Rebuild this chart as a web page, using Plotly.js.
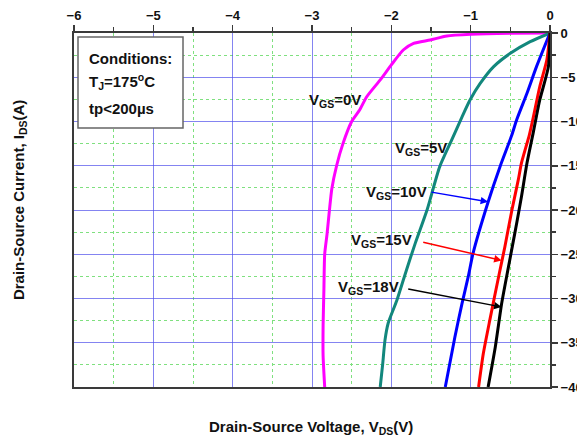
<!DOCTYPE html>
<html>
<head>
<meta charset="utf-8">
<script src="https://cdn.plot.ly/plotly-3.0.1.min.js"></script>
<style>
  html, body { margin: 0; padding: 0; background: #fff; }
  #chart { width: 577px; height: 436px; }
</style>
</head>
<body>
<div id="chart"></div>
<script>
// Third-quadrant output curves: drain-source voltage (V) vs drain-source current (A)
const vds_vgs0  = [0, -0.5, -1.0, -1.3, -1.51, -1.72, -1.85, -2.0, -2.14, -2.31, -2.40, -2.50, -2.61, -2.69, -2.75, -2.78, -2.81, -2.84, -2.85, -2.86, -2.86, -2.84];
const ids_vgs0  = [0, -0.03, -0.15, -0.34, -0.79, -1.17, -1.92, -3.6, -5.3, -7.2, -8.7, -10.0, -12.5, -15.0, -17.6, -20.0, -22.7, -25.0, -29.0, -33.0, -36.5, -40.0];

const vds_vgs5  = [0, -0.25, -0.5, -0.71, -0.88, -1.01, -1.11, -1.24, -1.39, -1.55, -1.70, -1.81, -1.93, -2.04, -2.08, -2.11, -2.14];
const ids_vgs5  = [0, -0.98, -2.3, -3.8, -5.7, -7.6, -9.5, -12.1, -15.1, -20.0, -23.8, -26.8, -30.2, -32.8, -34.7, -37.5, -40.0];

const vds_vgs10 = [0, -0.17, -0.29, -0.42, -0.48, -0.63, -0.78, -0.97, -1.03, -1.11, -1.20, -1.32];
const ids_vgs10 = [0, -3.8, -6.8, -9.8, -11.5, -15.1, -19.1, -24.9, -27.5, -30.6, -34.4, -40.0];

const vds_vgs15 = [0, -0.04, -0.13, -0.21, -0.26, -0.36, -0.40, -0.48, -0.57, -0.64, -0.76, -0.84, -0.90];
const ids_vgs15 = [0, -3.05, -6.1, -9.5, -11.5, -14.7, -16.6, -20.0, -24.2, -27.2, -32.5, -36.2, -40.0];

const vds_vgs18 = [0, -0.02, -0.13, -0.21, -0.29, -0.36, -0.42, -0.50, -0.54, -0.61, -0.69, -0.78];
const ids_vgs18 = [0, -3.8, -7.6, -11.2, -14.7, -18.5, -21.5, -25.3, -27.2, -30.6, -35.5, -40.0];

const seriesNames  = ['V<sub>GS</sub>=0V', 'V<sub>GS</sub>=5V', 'V<sub>GS</sub>=10V', 'V<sub>GS</sub>=15V', 'V<sub>GS</sub>=18V'];
const seriesColors = ['#ff00ff', '#12877c', '#0000ff', '#ff0000', '#000000'];
const seriesX = [vds_vgs0, vds_vgs5, vds_vgs10, vds_vgs15, vds_vgs18];
const seriesY = [ids_vgs0, ids_vgs5, ids_vgs10, ids_vgs15, ids_vgs18];

const conditionLines = ['Conditions:', 'T<sub>J</sub>=175<sup>o</sup>C', 'tp&lt;200µs'];

const traces = seriesX.map((xs, i) => ({
  x: xs,
  y: seriesY[i],
  type: 'scatter',
  mode: 'lines',
  name: seriesNames[i],
  line: { color: seriesColors[i], width: 3, shape: 'spline', smoothing: 0.6 },
  hoverinfo: 'skip'
}));

const boldFont = { family: 'Liberation Sans, Arial, sans-serif', size: 15, color: '#111', weight: 'bold' };
const tickFont = { family: 'Liberation Sans, Arial, sans-serif', size: 13, color: '#111', weight: 'bold' };

const axisCommon = {
  showline: true, linecolor: '#3a3a3a', linewidth: 2, mirror: true,
  ticks: 'outside', ticklen: 6, tickwidth: 1.5, tickcolor: '#3a3a3a',
  showgrid: true, gridcolor: 'rgba(80,80,235,0.7)', gridwidth: 1,
  zeroline: false, tickfont: tickFont, fixedrange: true
};

// Curve labels and their pointer arrows
const labelAnns = [
  { text: seriesNames[0], x: -2.71, y: -7.6 },
  { text: seriesNames[1], x: -1.63, y: -13.0 },
  { text: seriesNames[2], x: -1.94, y: -18.0 },
  { text: seriesNames[3], x: -2.12, y: -23.4 },
  { text: seriesNames[4], x: -2.29, y: -28.8 }
].map(a => Object.assign({ xref: 'x', yref: 'y', showarrow: false, font: boldFont, xanchor: 'center', yanchor: 'middle' }, a));

const arrowAnns = [
  { x: -0.78, y: -19.08, ax: -1.513, ay: -17.95, arrowcolor: seriesColors[2] },
  { x: -0.61, y: -25.7,  ax: -1.617, ay: -23.6,  arrowcolor: seriesColors[3] },
  { x: -0.61, y: -30.96, ax: -1.806, ay: -28.9,  arrowcolor: seriesColors[4] }
].map(a => Object.assign({ xref: 'x', yref: 'y', axref: 'x', ayref: 'y', text: '', showarrow: true,
  arrowhead: 2, arrowsize: 1, arrowwidth: 1.5, standoff: 0 }, a));

const condY = [0.9285, 0.8624, 0.788];
const condAnns = conditionLines.map((t, i) => ({
  xref: 'paper', yref: 'paper', x: 0.027, y: condY[i], xanchor: 'left', yanchor: 'middle',
  text: t, showarrow: false, font: boldFont
}));

const titleAnns = [
  { xref: 'paper', yref: 'paper', x: 0.498, y: -0.113, xanchor: 'center', yanchor: 'middle',
    text: 'Drain-Source Voltage, V<sub>DS</sub>(V)', showarrow: false, font: boldFont },
  { xref: 'paper', yref: 'paper', x: -0.1155, y: 0.528, xanchor: 'center', yanchor: 'middle', textangle: -90,
    text: 'Drain-Source Current, I<sub>DS</sub>(A)', showarrow: false, font: boldFont }
];

const layout = {
  width: 577, height: 436,
  margin: { l: 74, r: 27, t: 33, b: 49, pad: 0 },
  paper_bgcolor: '#fff', plot_bgcolor: '#fff',
  showlegend: false,
  xaxis: Object.assign({}, axisCommon, {
    range: [-6, 0], side: 'top', tick0: 0, dtick: 1,
    minor: { tick0: 0, dtick: 0.5, ticks: 'outside', ticklen: 4, tickcolor: '#3a3a3a',
             showgrid: true, gridcolor: '#7fe07f', griddash: 'dot', gridwidth: 1 }
  }),
  yaxis: Object.assign({}, axisCommon, {
    range: [-40, 0], side: 'right', tick0: 0, dtick: 5,
    minor: { tick0: 0, dtick: 2.5, ticks: 'outside', ticklen: 4, tickcolor: '#3a3a3a',
             showgrid: true, gridcolor: '#7fe07f', griddash: 'dot', gridwidth: 1 }
  }),
  shapes: [{
    type: 'rect', xref: 'paper', yref: 'paper',
    x0: 0.0084, x1: 0.229, y0: 0.7316, y1: 0.9887,
    line: { color: '#666', width: 1.5 }, fillcolor: '#fff', layer: 'above'
  }],
  annotations: labelAnns.concat(arrowAnns, condAnns, titleAnns)
};

Plotly.newPlot('chart', traces, layout, { staticPlot: true, displayModeBar: false });
</script>
</body>
</html>
